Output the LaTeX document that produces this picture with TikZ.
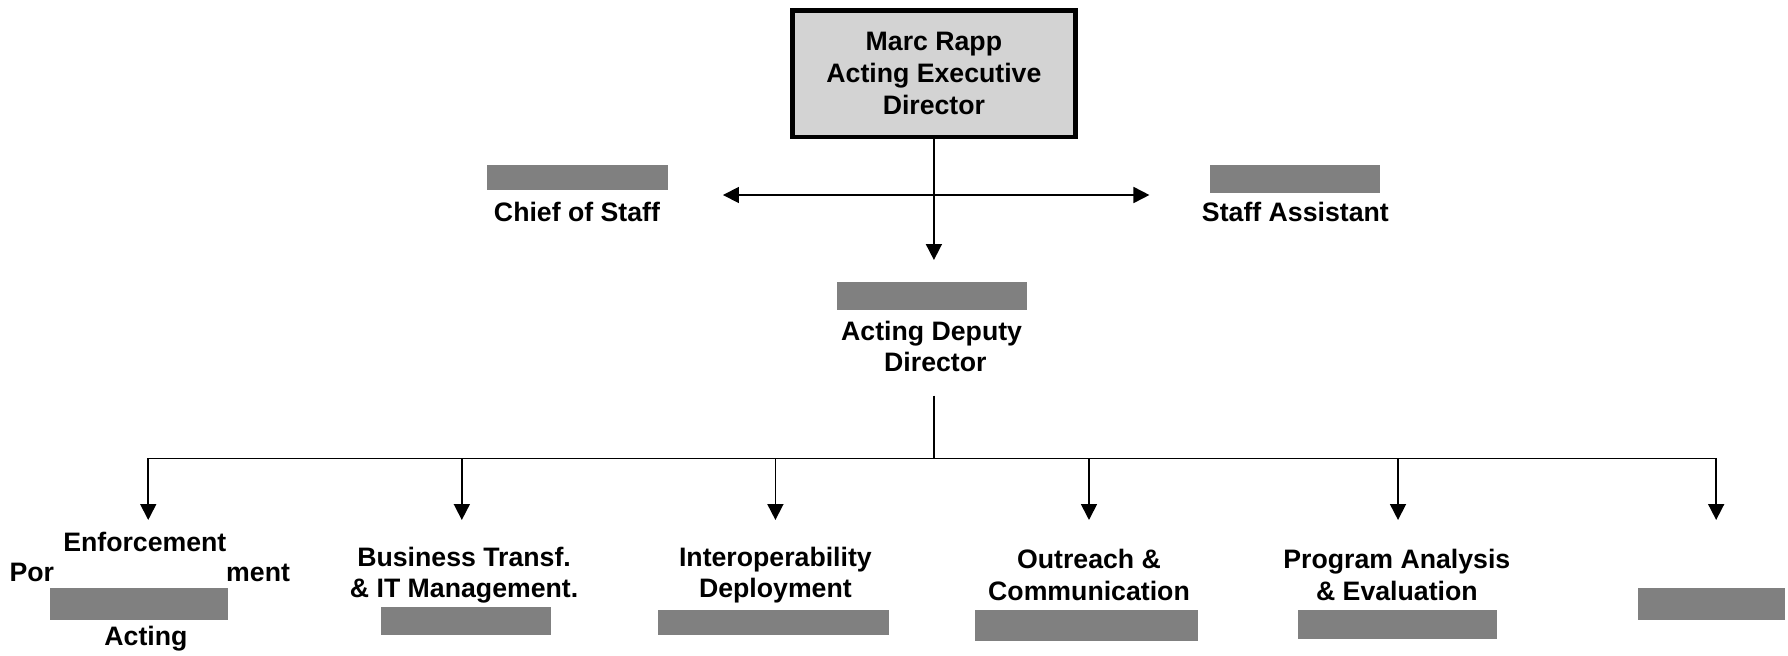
\documentclass[tikz,border=0pt]{standalone}
\usepackage{fontspec}
\setmainfont{Liberation Sans}
\usetikzlibrary{arrows.meta}
\definecolor{barfill}{HTML}{808080}
\definecolor{boxfill}{HTML}{D3D3D3}
\tikzset{
  lbl/.style={font=\bfseries\fontsize{11.7}{13.8}\selectfont, align=center, inner sep=0pt},
  bar/.style={fill=barfill, draw=none, inner sep=0pt},
  conn/.style={line width=0.75pt, -{Triangle[length=7pt,width=7pt]}},
  plain/.style={line width=0.75pt},
}
\begin{document}
\begin{tikzpicture}[x=0.5pt,y=-0.5pt]
\useasboundingbox (0,0) rectangle (1568,575);
% top box
\node[draw, line width=2pt, fill=boxfill, minimum width=124pt, minimum height=55.5pt, inner sep=0pt,
  font=\bfseries\fontsize{11.7}{14.2}\selectfont, align=center] (top) at (819,64.5)
  {\raisebox{-1.5pt}{\parbox{124pt}{\centering Marc Rapp\\Acting Executive\\Director}}};
% chief of staff / staff assistant
\node[bar, minimum width=79.5pt, minimum height=11pt] (chiefbar) at (506.5,156) {};
\node[lbl] (chief) at (506,186) {Chief of Staff};
\node[bar, minimum width=74.5pt, minimum height=12pt] (asstbar) at (1135.5,157) {};
\node[lbl] (asst) at (1136,186) {Staff Assistant};
% deputy
\node[bar, minimum width=83.5pt, minimum height=12.5pt] (depbar) at (817.5,259.5) {};
\node[lbl] (dep) at (817,304) {Acting Deputy\\\ Director};
% connectors top
\coordinate (dtip) at (819,228);
\coordinate (cl) at (634,171);
\coordinate (cr) at (1008,171);
\draw[conn] (top.south) -- (dtip);
\draw[line width=0.75pt, {Triangle[length=7pt,width=7pt]}-{Triangle[length=7pt,width=7pt]}] (cl) -- (cr);
% deputy to branches
\coordinate (dstart) at (819,347);
\coordinate (dmid) at (819,402);
\coordinate (hl) at (130,402);
\coordinate (hr) at (1505,402);
\draw[line width=1.2pt] (dstart) -- (dmid);
\draw[plain] (hl) -- (hr);
\foreach \x/\n in {130/a,405/b,680/c,955/d,1226/e,1505/f}{
  \coordinate (s\n) at (\x,402);
  \coordinate (t\n) at (\x,456);
  \draw[conn] (s\n) -- (t\n);
}
% bottom labels
\node[lbl] (enf) at (127,475) {Enforcement};
\node[lbl, anchor=west] (por) at (8,502) {Por};
\node[lbl, anchor=west] (ment) at (198,502) {ment};
\node[bar, minimum width=78pt, minimum height=14pt] (enfbar) at (122,530) {};
\node[lbl] (acting) at (128,560) {Acting};

\node[lbl] (bus) at (407,504.5) {Business Transf.\\\& IT Management.};
\node[bar, minimum width=74.5pt, minimum height=12.5pt] (busbar) at (408.5,544.5) {};

\node[lbl] (inter) at (680,504.5) {Interoperability\\Deployment};
\node[bar, minimum width=101.5pt, minimum height=11pt] (interbar) at (678.5,546) {};

\node[lbl] (out) at (955,504) {Outreach \&\\Communication};
\node[bar, minimum width=98pt, minimum height=13.5pt] (outbar) at (953,548.5) {};

\node[lbl] (prog) at (1225,504) {Program Analysis\\\& Evaluation};
\node[bar, minimum width=87.5pt, minimum height=12.5pt] (progbar) at (1225.5,547.5) {};

\node[bar, minimum width=64.5pt, minimum height=14pt] (lastbar) at (1500.5,530) {};
\end{tikzpicture}
\end{document}
